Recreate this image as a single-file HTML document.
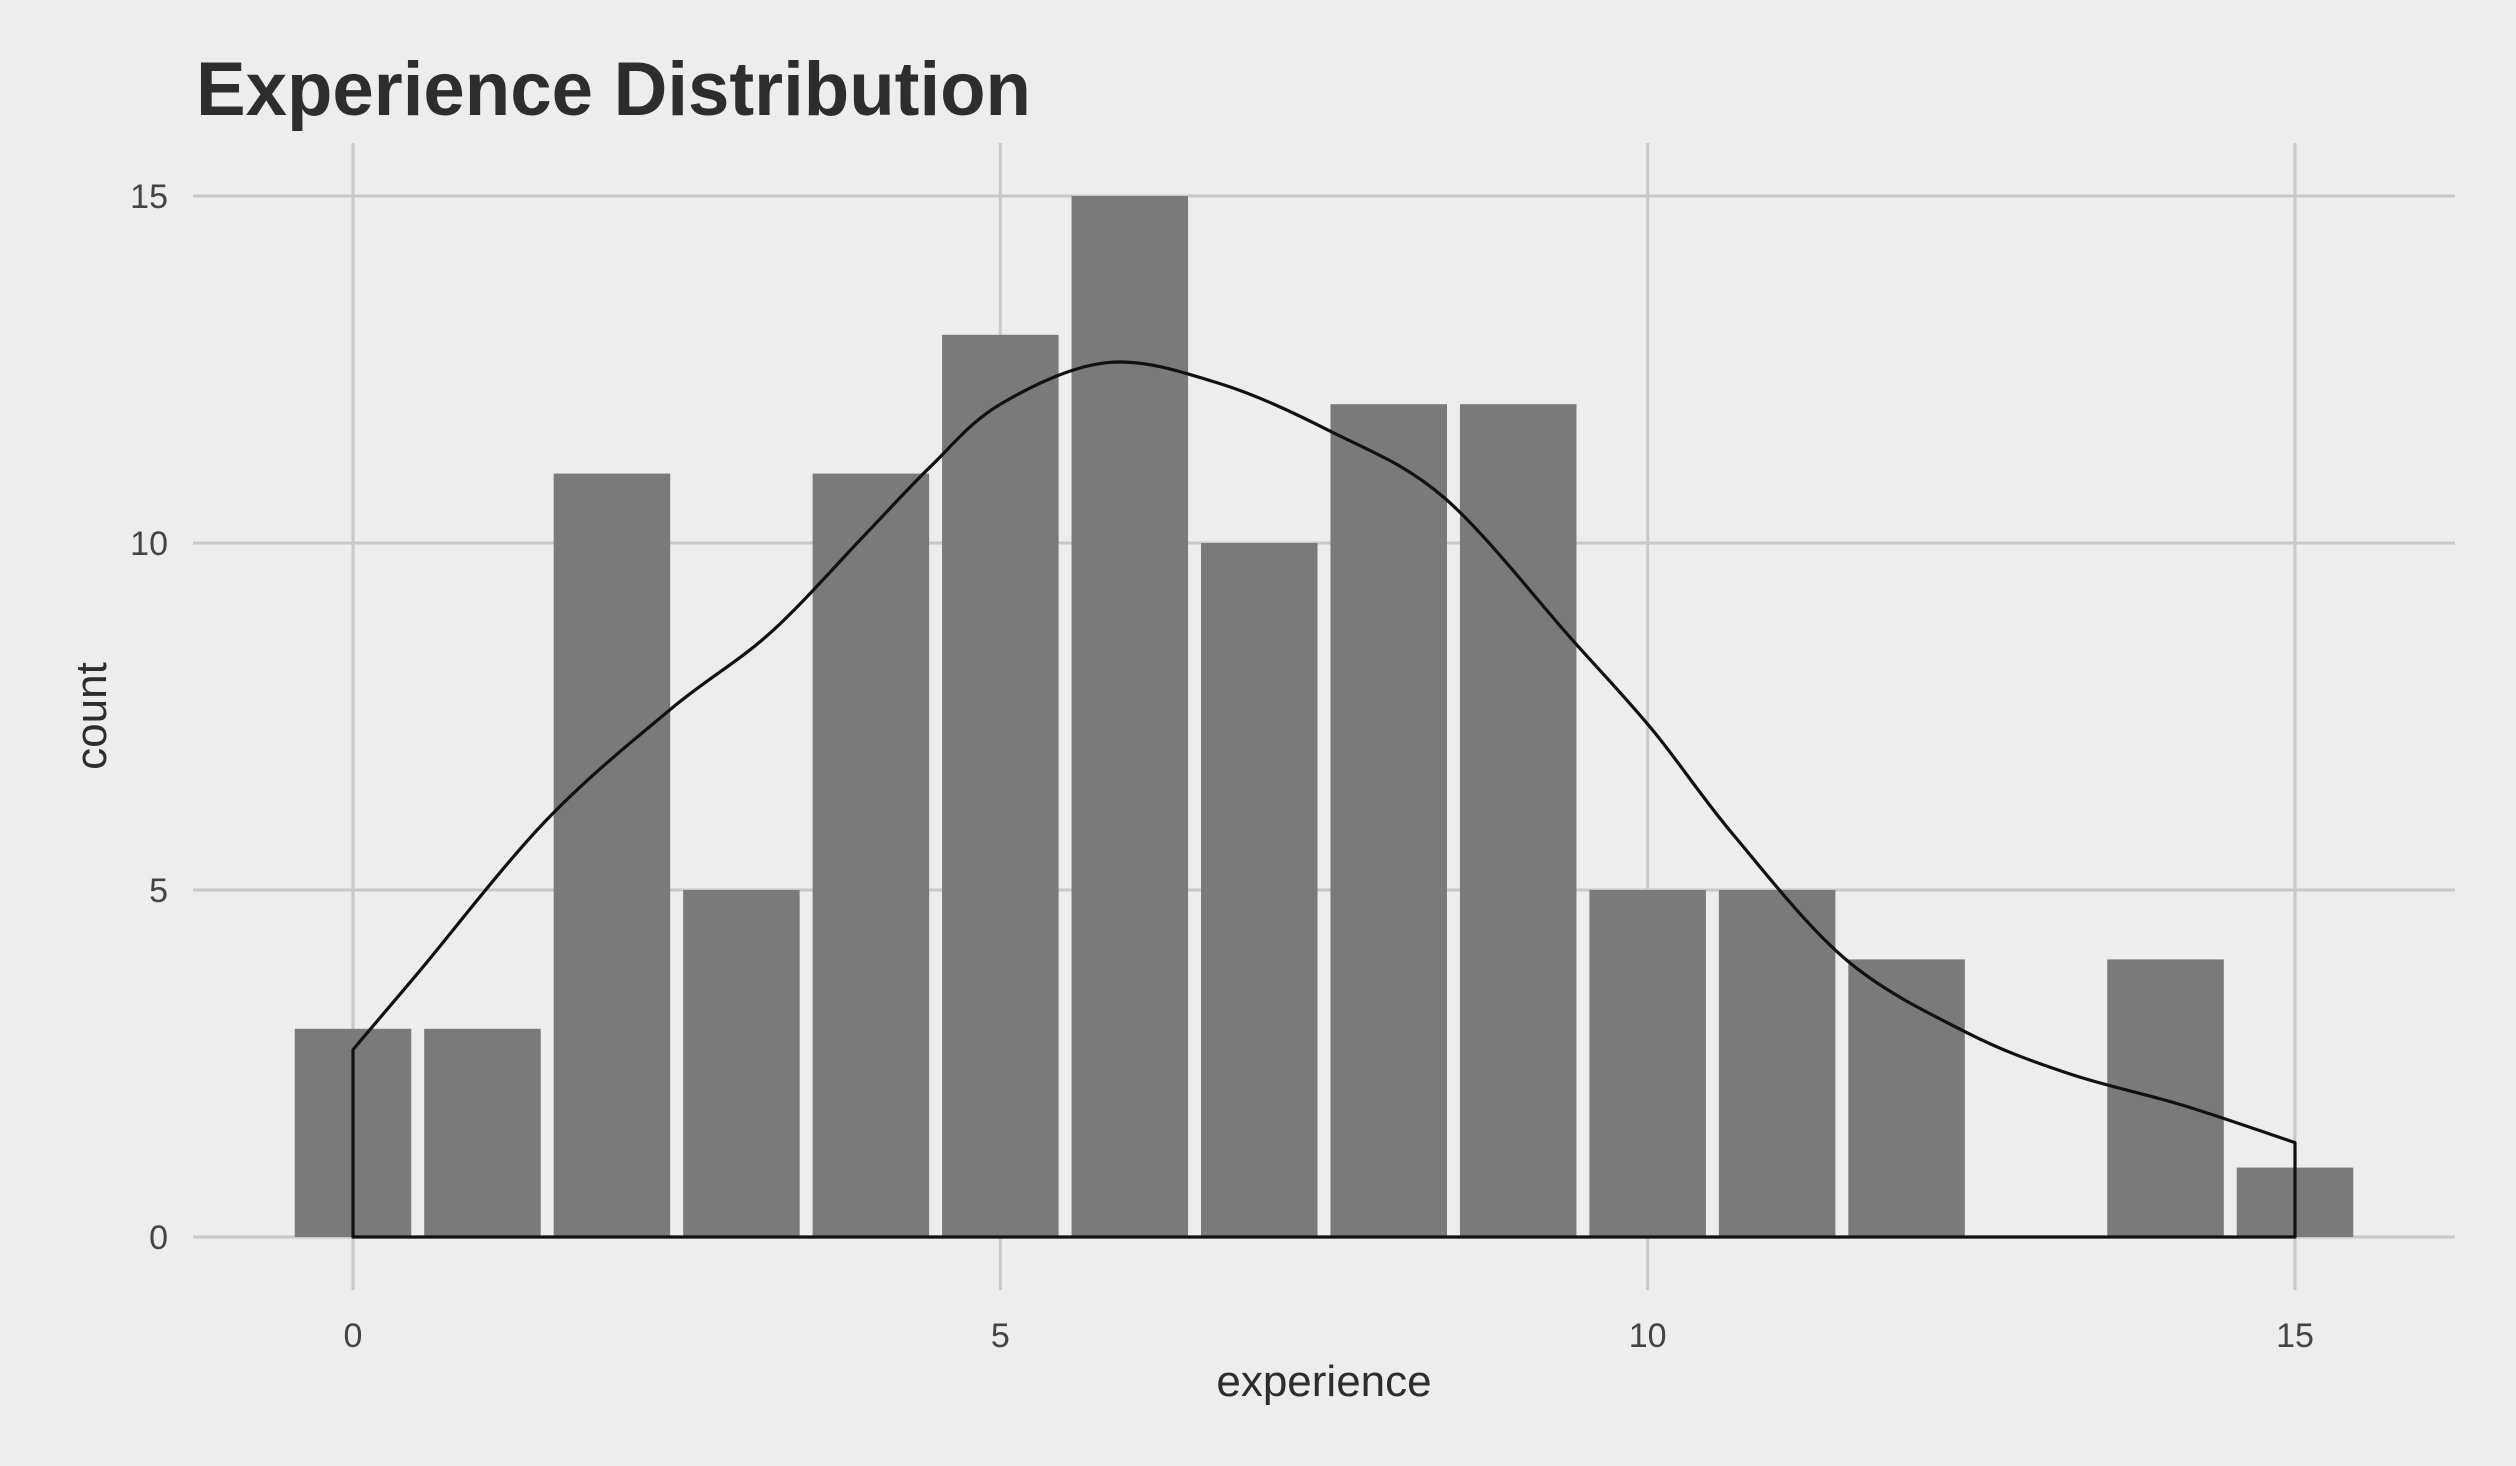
<!DOCTYPE html>
<html><head><meta charset="utf-8"><style>
html,body{margin:0;padding:0;background:#ededed;}
svg{display:block;font-family:"Liberation Sans",Arial,sans-serif;}
</style></head><body>
<svg id="chart" width="2516" height="1466" viewBox="0 0 2516 1466" xmlns="http://www.w3.org/2000/svg">
<rect x="0" y="0" width="2516" height="1466" fill="#ededed"/>
<text x="196" y="115" font-size="76" font-weight="bold" fill="#2d2d2d" textLength="835" lengthAdjust="spacingAndGlyphs">Experience Distribution</text>
<g id="grid"></g>
<g id="bars"></g>
<g id="density"></g>
<g id="xt"></g>
<g id="yt"></g>
<text x="1324" y="1396" font-size="44" fill="#2d2d2d" text-anchor="middle">experience</text>
<text transform="translate(106,716) rotate(-90)" font-size="44" fill="#2d2d2d" text-anchor="middle">count</text>
</svg>
<script>
const binCenters = [0,1,2,3,4,5,6,7,8,9,10,11,12,13,14,15];
const binCounts = [3,3,11,5,11,13,15,10,12,12,5,5,4,0,4,1];
const densityX = [0,0.5,1.49,2.45,3.22,3.97,4.46,5.0,5.83,6.69,7.56,8.43,9.42,10.04,10.66,11.53,12.46,13.26,14.13,15];
const densityY = [2.7,3.8,6.0,7.6,8.7,10.15,11.1,12.0,12.6,12.3,11.6,10.65,8.6,7.3,5.8,4.0,2.95,2.35,1.9,1.36];
const xTicks = [0,5,10,15];
const yTicks = [0,5,10,15];

const NS = "http://www.w3.org/2000/svg";
const X = v => 353 + v * (2295 - 353) / 15;
const Y = v => 1237 - v * (1237 - 196) / 15;
const PL = 193, PR = 2455, PT = 143, PB = 1290;
function mk(tag, attrs, parent){const e=document.createElementNS(NS,tag);for(const k in attrs)e.setAttribute(k,attrs[k]);parent.appendChild(e);return e;}

const grid = document.getElementById('grid');
yTicks.forEach(t=>{
  const l = mk('line',{x1:PL,x2:PR,y1:Y(t),y2:Y(t),stroke:'#c8c8c8','stroke-width':3},grid);
  
  
});
xTicks.forEach(t=>{
  const l = mk('line',{x1:X(t),x2:X(t),y1:PT,y2:PB,stroke:'#c8c8c8','stroke-width':3},grid);
  
  
});

const bars = document.getElementById('bars');
binCenters.forEach((c,i)=>{
  if(!binCounts[i]) return;
  const x0 = X(c-0.45), x1 = X(c+0.45);
  const r = mk('rect',{x:x0,y:Y(binCounts[i]),width:x1-x0,height:Y(0)-Y(binCounts[i]),fill:'#7a7a7a'},bars);
  
  
});

const pts = densityX.map((x,i)=>[X(x),Y(densityY[i])]);
let d = 'M'+X(densityX[0])+','+Y(0)+' L'+pts[0][0]+','+pts[0][1];
for(let i=0;i<pts.length-1;i++){
  const p0=pts[Math.max(0,i-1)],p1=pts[i],p2=pts[i+1],p3=pts[Math.min(pts.length-1,i+2)];
  const c1=[p1[0]+(p2[0]-p0[0])/6,p1[1]+(p2[1]-p0[1])/6];
  const c2=[p2[0]-(p3[0]-p1[0])/6,p2[1]-(p3[1]-p1[1])/6];
  d+=' C'+c1[0]+','+c1[1]+' '+c2[0]+','+c2[1]+' '+p2[0]+','+p2[1];
}
d+=' L'+X(densityX[densityX.length-1])+','+Y(0)+' Z';
const dp = mk('path',{d:d,fill:'none',stroke:'#111','stroke-width':3.2,'stroke-linejoin':'round'},document.getElementById('density'));



const xt = document.getElementById('xt');
xTicks.forEach(t=>{
  const e = mk('text',{x:X(t),y:1347,'font-size':34,fill:'#444','text-anchor':'middle'},xt);
  e.textContent = t;
  
  
});
const yt = document.getElementById('yt');
yTicks.forEach(t=>{
  const e = mk('text',{x:168,y:Y(t)+12,'font-size':34,fill:'#444','text-anchor':'end'},yt);
  e.textContent = t;
  
  
});
</script>
</body></html>
